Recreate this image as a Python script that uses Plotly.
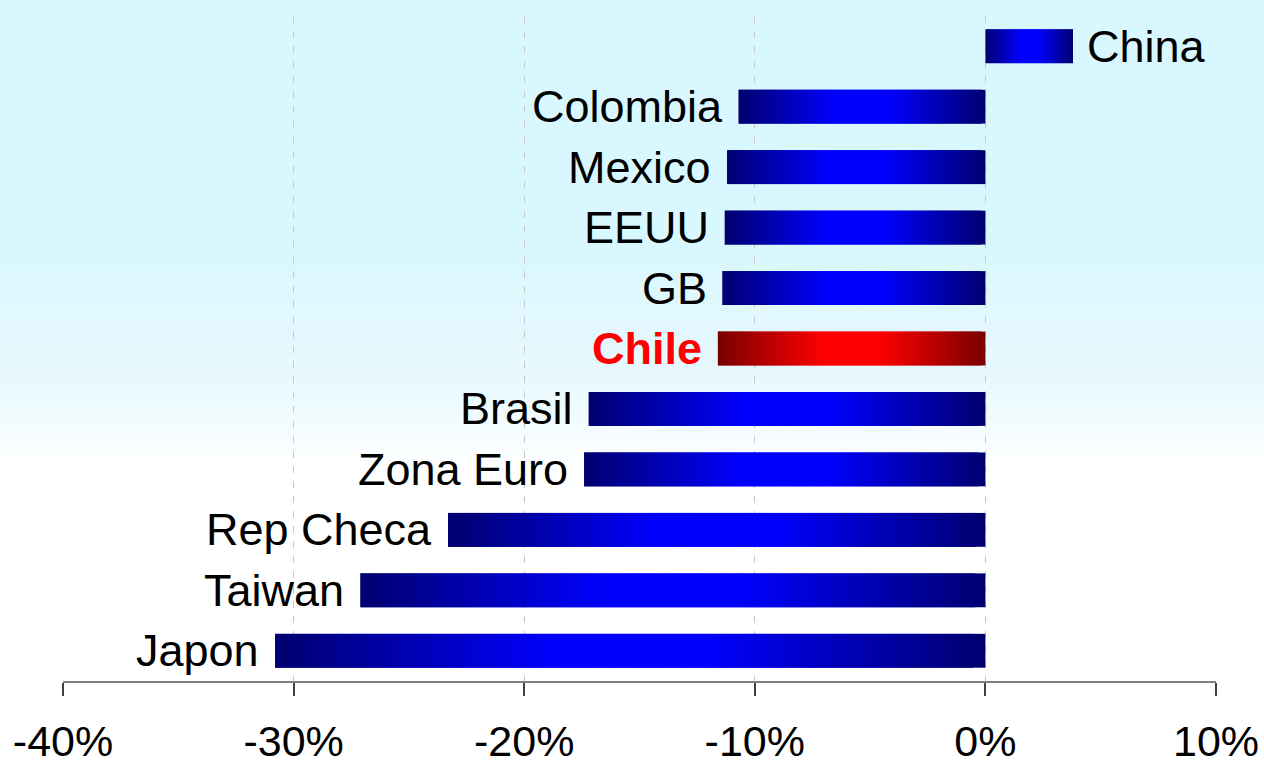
import plotly.graph_objects as go

categories = ["China", "Colombia", "Mexico", "EEUU", "GB", "Chile", "Brasil",
              "Zona Euro", "Rep Checa", "Taiwan", "Japon"]
values = [3.8, -10.7, -11.2, -11.3, -11.4, -11.6, -17.2, -17.4, -23.3, -27.1, -30.8]
highlight = "Chile"
tick_vals = [-40, -30, -20, -10, 0, 10]
tick_text = ["-40%", "-30%", "-20%", "-10%", "0%", "10%"]

FONT = "Liberation Sans, Arial, sans-serif"
W, H = 1264, 763
ML, MR, MT, MB = 63, 48, 16, 82

def mix(c1, c2, t):
    return "rgb(%d,%d,%d)" % tuple(round(a + (b - a) * t) for a, b in zip(c1, c2))

BLUE_DARK, BLUE_BRIGHT = (0, 0, 112), (0, 0, 255)
RED_DARK, RED_BRIGHT = (122, 0, 0), (255, 0, 0)

fig = go.Figure()

# gradient bars built from short segments, each overlapping the next slightly
N = 60
for k in range(N):
    t = (k + 0.5) / N
    inten = min(1.0, (1 - abs(2 * t - 1)) * 1.25)
    colors = []
    for c in categories:
        if c == highlight:
            colors.append(mix(RED_DARK, RED_BRIGHT, inten))
        else:
            colors.append(mix(BLUE_DARK, BLUE_BRIGHT, inten))
    span = min(2, N - k) / N
    fig.add_trace(go.Bar(
        y=categories,
        x=[v * span for v in values],
        base=[v * k / N for v in values],
        orientation="h",
        marker=dict(color=colors, line=dict(width=0)),
        width=0.56,
        hoverinfo="skip",
        showlegend=False,
    ))

# category labels next to bar ends
for c, v in zip(categories, values):
    is_h = c == highlight
    fig.add_annotation(
        x=v, y=c, xref="x", yref="y",
        text=("<b>%s</b>" % c) if is_h else c,
        showarrow=False,
        xanchor="right" if v < 0 else "left",
        xshift=-14 if v < 0 else 12,
        font=dict(family=FONT, size=45, color="#ff0000" if is_h else "#000000"),
    )

# background: vertical gradient from light cyan to white
plot_h = H - MT - MB
plot_w = W - ML - MR
stops = [(0, (217, 247, 254)), (250, (217, 247, 254)), (380, (232, 249, 254)), (470, (255, 255, 255))]
def bg_color(py):
    for (y0, c0), (y1, c1) in zip(stops[:-1], stops[1:]):
        if y0 <= py <= y1:
            return mix(c0, c1, (py - y0) / (y1 - y0) if y1 > y0 else 0)
    return "rgb(255,255,255)"
band = 6
shapes = []
for py in range(0, 480, band):
    y_top = 1 - (py - MT) / plot_h
    y_bot = 1 - (py + band + 1 - MT) / plot_h
    if py == 0:
        y_top += 0.05
    shapes.append(dict(type="rect", xref="paper", yref="paper",
                       x0=-ML / plot_w - 0.01, x1=1 + MR / plot_w + 0.01, y0=y_bot, y1=y_top,
                       fillcolor=bg_color(py + band / 2), line=dict(width=0), layer="below"))

fig.update_layout(
    width=W, height=H,
    margin=dict(l=ML, r=MR, t=MT, b=MB, autoexpand=False),
    paper_bgcolor="white",
    plot_bgcolor="rgba(0,0,0,0)",
    barmode="overlay",
    shapes=shapes,
    xaxis=dict(
        range=[-40, 10],
        tickvals=tick_vals, ticktext=tick_text,
        tickfont=dict(family=FONT, size=43, color="black"),
        showgrid=True, gridcolor="#c8c8c8", gridwidth=1, griddash="7px,8px",
        zeroline=False,
        showline=True, linecolor="#808080", linewidth=1.5,
        ticks="outside", ticklen=13, tickcolor="#404040", tickwidth=1.5,
        ticklabelstandoff=9,
        automargin=False,
    ),
    yaxis=dict(
        categoryorder="array", categoryarray=categories, autorange="reversed",
        showticklabels=False, showgrid=False, zeroline=False, showline=False,
        automargin=False,
    ),
)

fig.write_html(
    "out.html",
    config={"displayModeBar": False},
    post_script="document.body.style.margin='0';document.body.style.overflow='hidden';",
)
